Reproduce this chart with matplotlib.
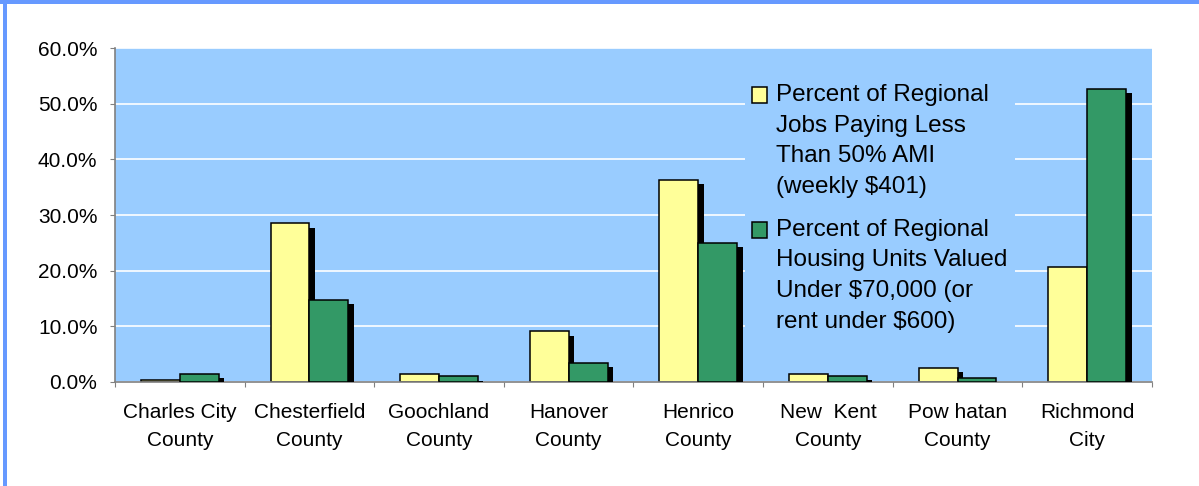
import matplotlib
matplotlib.use("Agg")
import matplotlib.pyplot as plt
import matplotlib.patheffects as pe
from matplotlib.patches import Rectangle
from matplotlib.legend_handler import HandlerBase
import numpy as np

# =========================
# DATA
# =========================
counties = ["Charles City\nCounty", "Chesterfield\nCounty", "Goochland\nCounty",
            "Hanover\nCounty", "Henrico\nCounty", "New  Kent\nCounty",
            "Pow hatan\nCounty", "Richmond\nCity"]
jobs_pct = [0.4, 28.5, 1.4, 9.1, 36.3, 1.4, 2.5, 20.7]
housing_pct = [1.4, 14.7, 1.0, 3.5, 25.0, 1.1, 0.7, 52.7]
y_ticks = [0, 10, 20, 30, 40, 50, 60]

jobs_label = "Percent of Regional\nJobs Paying Less\nThan 50% AMI\n(weekly $401)"
housing_label = "Percent of Regional\nHousing Units Valued\nUnder $70,000 (or\nrent under $600)"

YELLOW = "#FFFF99"
GREEN = "#339966"
PLOT_BG = "#99CCFF"
BORDER = "#6699FF"

plt.rcParams["font.family"] = ["Liberation Sans", "DejaVu Sans"]


# legend square sitting on the first text line instead of the middle
class TopSquare(HandlerBase):
    def __init__(self, lift, color):
        super().__init__()
        self.lift = lift
        self.color = color

    def create_artists(self, legend, orig_handle, xdescent, ydescent,
                       width, height, fontsize, trans):
        r = Rectangle((-xdescent, -ydescent + self.lift), width, height,
                      facecolor=self.color, edgecolor="black",
                      linewidth=1.1, transform=trans)
        return [r]


fig = plt.figure(figsize=(11.99, 4.86), dpi=100)
fig.patch.set_facecolor("white")
ax = fig.add_axes([0.0959, 0.214, 0.8649, 0.687])
ax.set_facecolor(PLOT_BG)

x = np.arange(len(counties))
w = 0.3
shadow = [pe.SimplePatchShadow(offset=(4, -3), shadow_rgbFace="black", alpha=1.0),
          pe.Normal()]

b1 = ax.bar(x - w / 2, jobs_pct, w, color=YELLOW, edgecolor="black",
            linewidth=1.1, label=jobs_label, zorder=2)
b2 = ax.bar(x + w / 2, housing_pct, w, color=GREEN, edgecolor="black",
            linewidth=1.1, label=housing_label, zorder=3)
for bars in (b1, b2):
    for p in bars:
        p.set_path_effects(shadow)

ax.set_xlim(-0.5, len(counties) - 0.5)
ax.set_ylim(0, 60)
ax.set_yticks(y_ticks)
ax.set_yticklabels([f"{v:.1f}%" for v in y_ticks])
ax.yaxis.grid(True, color="white", linewidth=1.2)
ax.set_axisbelow(True)

ax.set_xticks(np.arange(len(counties) + 1) - 0.5)
ax.set_xticklabels([])
ax.set_xticks(x, minor=True)
ax.set_xticklabels(counties, minor=True, linespacing=1.62)

for s in ("top", "right"):
    ax.spines[s].set_visible(False)
for s in ("left", "bottom"):
    ax.spines[s].set_color("#808080")
    ax.spines[s].set_linewidth(1.2)

ax.tick_params(axis="y", length=3.6, color="#808080", pad=9, labelsize=15)
ax.tick_params(axis="x", which="major", length=3.6, color="#808080")
ax.tick_params(axis="x", which="minor", length=0, pad=15, labelsize=15)

lift = 33.1
leg = ax.legend(handler_map={b1: TopSquare(lift, YELLOW), b2: TopSquare(lift, GREEN)},
                loc="upper left", bbox_to_anchor=(0.6075, 0.914),
                borderaxespad=0, borderpad=0.3, frameon=True,
                fontsize=17.5, handlelength=0.62, handleheight=0.62,
                handletextpad=0.35, labelspacing=0.85)
leg.get_frame().set_facecolor(PLOT_BG)
leg.get_frame().set_edgecolor("none")
leg.get_frame().set_alpha(1.0)
for t in leg.get_texts():
    t.set_linespacing(1.51)

# blue frame strips along the top and left
fig.add_artist(Rectangle((0, 1 - 4.5 / 486), 1, 4.5 / 486, transform=fig.transFigure,
                         facecolor=BORDER, edgecolor="none"))
fig.add_artist(Rectangle((3 / 1199, 0), 4 / 1199, 1, transform=fig.transFigure,
                         facecolor=BORDER, edgecolor="none"))

fig.savefig("out.png", dpi=100)
